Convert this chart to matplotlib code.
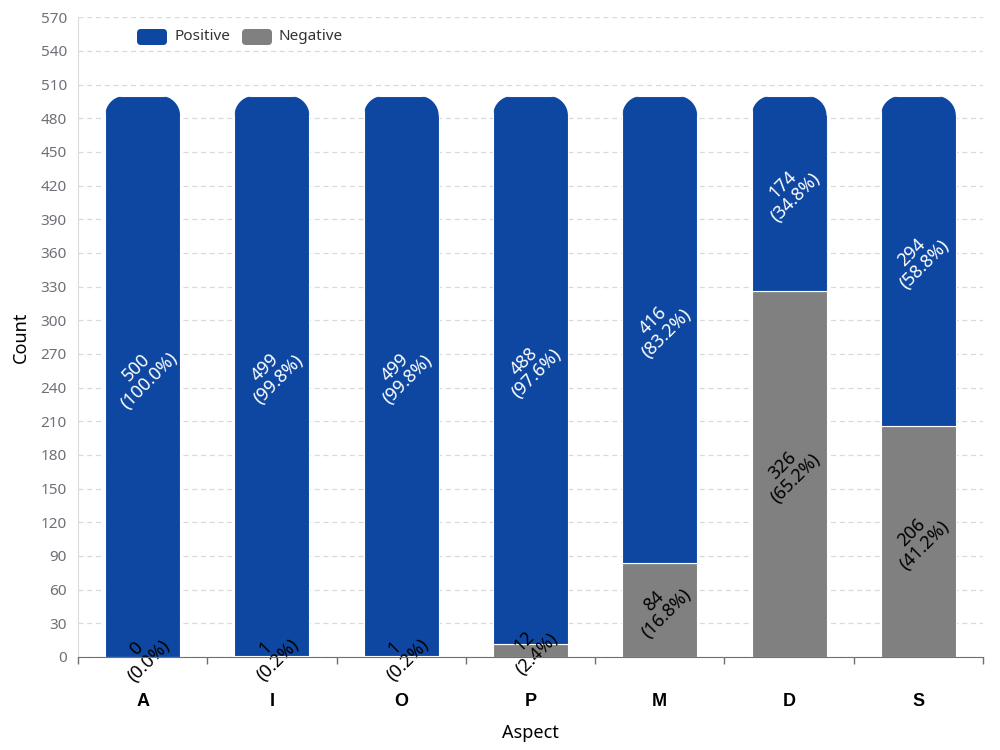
import matplotlib
matplotlib.use("Agg")
import matplotlib.pyplot as plt
from matplotlib.patches import FancyBboxPatch, PathPatch
from matplotlib.path import Path
import numpy as np

plt.rcParams['font.family'] = ['Noto Sans', 'DejaVu Sans']

categories = ['A', 'I', 'O', 'P', 'M', 'D', 'S']
positive = [500, 499, 499, 488, 416, 174, 294]
negative = [0, 1, 1, 12, 84, 326, 206]
pos_pct = ['100.0%', '99.8%', '99.8%', '97.6%', '83.2%', '34.8%', '58.8%']
neg_pct = ['0.0%', '0.2%', '0.2%', '2.4%', '16.8%', '65.2%', '41.2%']

BLUE = '#0d47a1'
GRAY = '#808080'

fig = plt.figure(figsize=(10, 7.5), dpi=100)
ax = fig.add_axes([0.078, 0.124, 0.905, 0.853])

x = np.arange(len(categories))
width = 0.58
ax.set_xlim(-0.5, len(categories) - 0.5)
ax.set_ylim(0, 570)

neg_bars = ax.bar(x, negative, width=width, color=GRAY, edgecolor='white', linewidth=0.8, zorder=3)
pos_bars = ax.bar(x, positive, width=width, bottom=negative, color=BLUE, edgecolor='white', linewidth=0.8, zorder=3)

# rounded top corners via clip paths
px_per_x = 0.905 * 1000 / len(categories)
px_per_y = 0.853 * 750 / 570
r_px = 20
rx = r_px / px_per_x
ry = r_px / px_per_y
for b, bot, val in zip(pos_bars, negative, positive):
    x0 = b.get_x()
    x1 = x0 + b.get_width()
    top = bot + val
    verts = [(x0 - 0.01, -200), (x0 - 0.01, top - ry)]
    for t in np.linspace(np.pi, np.pi / 2, 20):
        verts.append((x0 + rx + rx * np.cos(t), top - ry + ry * np.sin(t)))
    for t in np.linspace(np.pi / 2, 0, 20):
        verts.append((x1 - rx + rx * np.cos(t), top - ry + ry * np.sin(t)))
    verts += [(x1 + 0.01, top - ry), (x1 + 0.01, -200), (x0 - 0.01, -200)]
    codes = [Path.MOVETO] + [Path.LINETO] * (len(verts) - 2) + [Path.CLOSEPOLY]
    clip = PathPatch(Path(verts, codes), transform=ax.transData,
                     facecolor='none', edgecolor='none')
    b.set_clip_path(clip)

for i in range(len(categories)):
    ax.text(x[i], negative[i] + positive[i] / 2 + 2, f"{positive[i]}\n({pos_pct[i]})",
            rotation=45, ha='center', va='center', color='white', fontsize=13,
            linespacing=1.0, zorder=5, rotation_mode='anchor')
    ax.text(x[i], negative[i] / 2 + 2, f"{negative[i]}\n({neg_pct[i]})",
            rotation=45, ha='center', va='center', color='black', fontsize=13,
            linespacing=1.0, zorder=5, rotation_mode='anchor')

ax.set_yticks(np.arange(0, 571, 30))
ax.tick_params(axis='y', length=0, labelsize=11, labelcolor='#6e7079', pad=8)
ax.yaxis.grid(True, linestyle=(0, (4, 3)), color='#d9d9d9', linewidth=0.9, zorder=0)
ax.set_axisbelow(True)

ax.set_xticks(x)
ax.set_xticklabels(categories, fontweight='bold', fontsize=13, family='Liberation Sans')
ax.tick_params(axis='x', length=0, pad=26, labelcolor='black')
ax.set_xticks(np.arange(-0.5, len(categories), 1), minor=True)
ax.tick_params(axis='x', which='minor', length=5, color='#6e7079', width=1)

for s in ['top', 'right']:
    ax.spines[s].set_visible(False)
ax.spines['left'].set_color('#dcdcdc')
ax.spines['bottom'].set_color('#6e7079')
ax.spines['bottom'].set_zorder(6)

ax.set_ylabel('Count', fontsize=13, labelpad=8)
ax.set_xlabel('Aspect', fontsize=13, labelpad=10)

# legend (pixel-based via inches)
def legend_item(xpx, label, color):
    w, h = 30, 16
    ycen = 750 - 37
    p = FancyBboxPatch(((xpx + 4) / 100, (ycen - h / 2 + 4) / 100), (w - 8) / 100, (h - 8) / 100,
                       boxstyle="round,pad=0.04,rounding_size=0.04",
                       transform=fig.dpi_scale_trans, facecolor=color, edgecolor='none')
    fig.patches.append(p)
    fig.text((xpx + w + 7) / 1000, ycen / 750, label, fontsize=11, color='#333333',
             va='center', ha='left')

legend_item(137, 'Positive', BLUE)
legend_item(242, 'Negative', GRAY)

fig.savefig('out.png', dpi=100)
